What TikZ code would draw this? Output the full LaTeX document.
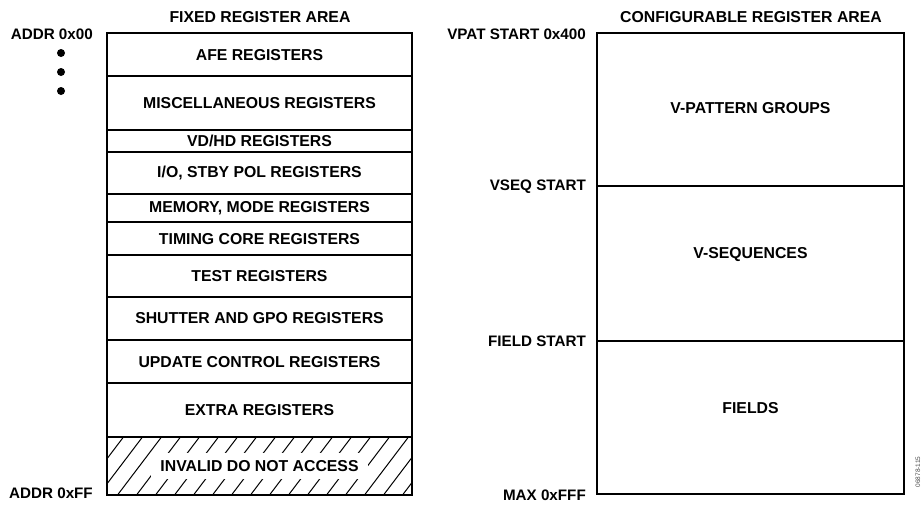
\documentclass[tikz,border=0pt]{standalone}
\usepackage{fontspec}
\setmainfont{Liberation Sans}
\begin{document}
\begin{tikzpicture}[x=1pt,y=-1pt,
  boxline/.style={draw=black,line width=1.8pt},
  lbl/.style={font=\fontsize{15.8}{17}\selectfont\bfseries,inner sep=0pt},
  side/.style={font=\fontsize{15.2}{17}\selectfont\bfseries,inner sep=0pt,anchor=east},
  hatchline/.style={line width=1pt}]
\useasboundingbox (0,0) rectangle (924,506);
% titles
\node[lbl] (t1) at (260,17) {FIXED REGISTER AREA};
\node[lbl] (t2) at (751,17) {CONFIGURABLE REGISTER AREA};
% left side labels
\node[side] (a0) at (93,34) {ADDR 0x00};
\node[side] (aF) at (93,493) {ADDR 0xFF};
\foreach \yy/\nm in {53/d1,72/d2,91/d3}
  \fill (61,\yy) circle (4pt);
% hatching of invalid area
\begin{scope}
  \clip (107,437) rectangle (412,495);
  \foreach \xx in {40,59,...,420}
    \draw[hatchline] (\xx,497) -- (\xx+47,435);
\end{scope}
\node[lbl,fill=white,inner xsep=9pt,inner ysep=7pt] (inv) at (259.5,466) {INVALID DO NOT ACCESS};
% left box
\draw[boxline] (107,33) rectangle (412,495);
\foreach \yy in {76,130,152,194,222,255,297,340,383,437}
  \draw[boxline] (107,\yy) -- (412,\yy);
\node[lbl] (afe) at (259.5,55) {AFE REGISTERS};
\node[lbl] (misc) at (259.5,103) {MISCELLANEOUS REGISTERS};
\node[lbl] (vdhd) at (259.5,141) {VD/HD REGISTERS};
\node[lbl] (io) at (259.5,173) {I/O, STBY POL REGISTERS};
\node[lbl] (mem) at (259.5,208) {MEMORY, MODE REGISTERS};
\node[lbl] (tim) at (259.5,239) {TIMING CORE REGISTERS};
\node[lbl] (test) at (259.5,276) {TEST REGISTERS};
\node[lbl] (shut) at (259.5,318) {SHUTTER AND GPO REGISTERS};
\node[lbl] (upd) at (259.5,362) {UPDATE CONTROL REGISTERS};
\node[lbl] (extra) at (259.5,410) {EXTRA REGISTERS};
% right box
\draw[boxline] (597,33) rectangle (904,494);
\draw[boxline] (597,186) -- (904,186);
\draw[boxline] (597,341) -- (904,341);
\node[lbl] (vpg) at (750.5,108) {V-PATTERN GROUPS};
\node[lbl] (vseqs) at (750.5,255) {V-SEQUENCES};
\node[lbl] (fields) at (750.5,408) {FIELDS};
\node[side] (vpat) at (586,34) {VPAT START 0x400};
\node[side] (vseq) at (586,187) {VSEQ START};
\node[side] (fst) at (586,341) {FIELD START};
\node[side] (max) at (586,495) {MAX 0xFFF};
% figure number
\node[font=\fontsize{6.5}{7}\selectfont,text=black!70,rotate=90,inner sep=0pt] (fig) at (918,472) {06878-115};
\end{tikzpicture}
\end{document}
